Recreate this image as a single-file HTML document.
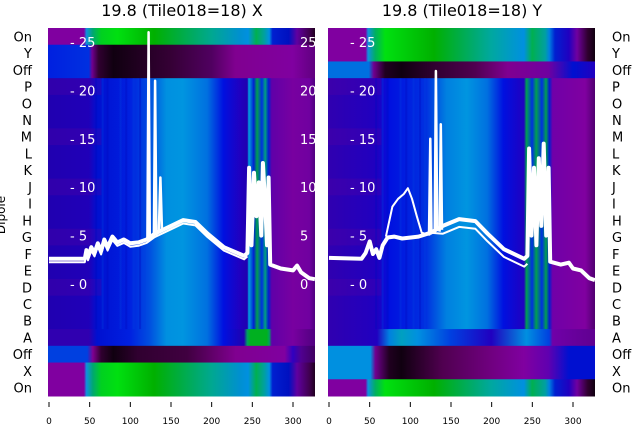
<!DOCTYPE html>
<html><head><meta charset="utf-8"><style>
html,body{margin:0;padding:0;background:#fff;width:640px;height:440px;overflow:hidden;font-family:"DejaVu Sans","Liberation Sans",sans-serif}
</style></head><body>
<svg id="s" width="640" height="440" xmlns="http://www.w3.org/2000/svg">
<defs id="d"></defs>
<text x="182" y="16" font-size="16" text-anchor="middle" font-family="DejaVu Sans">19.8 (Tile018=18) X</text>
<text x="462" y="16" font-size="16" text-anchor="middle" font-family="DejaVu Sans">19.8 (Tile018=18) Y</text>
<g id="g"></g>
</svg>
<script>
var NS="http://www.w3.org/2000/svg",d=document.getElementById('d'),g=document.getElementById('g');
function el(t,a,p){var e=document.createElementNS(NS,t);for(var k in a)e.setAttribute(k,a[k]);(p||g).appendChild(e);return e;}
var gid=0;
function grad(stops){var id='g'+(gid++);var lg=el('linearGradient',{id:id,x1:0,x2:1,y1:0,y2:0},d);
stops.forEach(function(s){el('stop',{offset:(s[0]/327),'stop-color':s[1]},lg);});return 'url(#'+id+')';}
var green=[[0,'#8000a0'],[44,'#8000a0'],[47,'#1090e0'],[55,'#00a870'],[65,'#00d020'],[85,'#00e010'],[130,'#00b000'],[200,'#00a890'],[235,'#0090d0'],[245,'#0090e0'],[255,'#00b050'],[265,'#00a0a0'],[271,'#0090e0'],[275,'#0020d0'],[295,'#0010c0'],[305,'#6000a0'],[320,'#400050'],[327,'#200020']];
var greenR=[[0,'#8000a0'],[46,'#8000a0'],[49,'#1090e0'],[58,'#00b060'],[70,'#00e010'],[130,'#00b000'],[200,'#00a8a0'],[240,'#0090e0'],[250,'#00b050'],[266,'#00a0a0'],[271,'#0080e0'],[278,'#0020d0'],[295,'#2000c0'],[305,'#7000a0'],[318,'#300030'],[327,'#100010']];
var darkL=[[0,'#0020e0'],[50,'#0030e0'],[54,'#700090'],[62,'#300030'],[80,'#100010'],[110,'#200020'],[150,'#350035'],[200,'#500060'],[230,'#800090'],[300,'#8000a0'],[327,'#600080']];
var darkLb=[[0,'#0040e0'],[48,'#0040e0'],[55,'#800090'],[65,'#300030'],[80,'#100010'],[110,'#300030'],[170,'#400040'],[230,'#800090'],[290,'#8000a0'],[300,'#3000c0'],[310,'#500090'],[327,'#400060']];
var darkR=[[0,'#0070e0'],[50,'#0070e0'],[56,'#700090'],[70,'#200020'],[90,'#100010'],[130,'#300030'],[180,'#500050'],[220,'#800090'],[270,'#7000a0'],[300,'#0010d0'],[327,'#2000c0']];
var darkRb=[[0,'#0090e0'],[52,'#0090e0'],[58,'#700090'],[75,'#200020'],[90,'#100010'],[140,'#500050'],[200,'#700080'],[240,'#8000a0'],[270,'#6000b0'],[295,'#0010d0'],[327,'#0010d0']];
var blue=[[0,'#2000b0'],[50,'#2000b8'],[60,'#0010d0'],[100,'#0020e0'],[125,'#0050e0'],[145,'#0090e0'],[165,'#0095e0'],[195,'#0070e0'],[215,'#0010e0'],[235,'#2000c0'],[244,'#2000b0'],[246,'#00a0e0'],[252,'#0020d0'],[256,'#00a050'],[262,'#0030e0'],[266,'#00a080'],[270,'#0020d0'],[274,'#6000a8'],[300,'#7800a0'],[320,'#7000a0'],[327,'#500080']];
var blueA=[[0,'#3000b0'],[50,'#3000b0'],[60,'#0010d0'],[100,'#0020e0'],[125,'#0050e0'],[145,'#0090e0'],[165,'#0095e0'],[195,'#0070e0'],[215,'#0010e0'],[240,'#2000b0'],[244,'#00a060'],[248,'#00b020'],[268,'#00b020'],[271,'#00a060'],[274,'#6000a8'],[300,'#7800a0'],[327,'#500080']];
var blueR=[[0,'#3000b0'],[60,'#2000c0'],[75,'#0010e0'],[120,'#0030e0'],[145,'#0080e0'],[170,'#0095e0'],[195,'#0070e0'],[215,'#0010e0'],[240,'#2000c0'],[243,'#00a050'],[250,'#0030e0'],[255,'#00a050'],[262,'#0030e0'],[267,'#00a050'],[271,'#0020d0'],[275,'#7000a8'],[315,'#8000a0'],[327,'#500070']];
function panel(x0,labelsRight,rows,grads,line){
 var W=267,top=28,rh=368/22,k=0.8133;
 rows.forEach(function(r,i){el('rect',{x:x0,y:top+i*rh,width:W,height:rh+0.5,fill:grads[r]});});
 for(var i=3;i<18;i++){ if(i%3==0) el('rect',{x:x0,y:top+i*rh,width:W*0.2,height:rh,fill:'#6000a0',opacity:0.25}); }
 // streaks
 var sx=[58,66,72,88,95,104,112,118];
 sx.forEach(function(u,j){el('rect',{x:x0+u*k,y:top+3*rh,width:2,height:15*rh,fill:(j%2?'#0040e0':'#0008c0'),opacity:0.35});});
 line.forEach(function(L){var pts=L.p.map(function(q){return (x0+1+q[0]*k).toFixed(1)+','+(284-9.68*q[1]).toFixed(1);}).join(' ');
  el('polyline',{points:pts,fill:'none',stroke:'#fff','stroke-width':L.w,'stroke-linejoin':'round'});});
 [0,5,10,15,20,25].forEach(function(v){var y=284-9.68*v;
  el('text',{x:x0+22,y:y+5,fill:'#fff','font-size':13}).textContent='- '+v;
  if(!labelsRight){var t=el('text',{x:x0+252,y:y+5,fill:'#fff','font-size':13});t.textContent=v;}});
 [0,50,100,150,200,250,300].forEach(function(v){var x=x0+1+v*k;
  el('line',{x1:x,x2:x,y1:402,y2:407,stroke:'#000','stroke-width':1});
  el('text',{x:x,y:424,'font-size':9,'text-anchor':'middle'}).textContent=v;});
}
var names=['On','Y','Off','P','O','N','M','L','K','J','I','H','G','F','E','D','C','B','A','Off','X','On'];
var GL={g:grad(green),d:grad(darkL),db:grad(darkLb),b:grad(blue),a:grad(blueA)};
var GR={g:grad(greenR),d:grad(darkR),db:grad(darkRb),b:grad(blueR),a:grad([[0,'#3000b0'],[60,'#2000c0'],[75,'#0080e0'],[90,'#00a0c0'],[110,'#0090e0'],[150,'#0040e0'],[200,'#2000c0'],[243,'#0090e0'],[271,'#0040e0'],[275,'#7000a8'],[327,'#600090']])};
var rowsL=['g','d','d'],rowsR=['g','g','d'];
for(var i=0;i<15;i++){rowsL.push('b');rowsR.push('b');}
rowsL.push('a');rowsR.push('a');
rowsL=rowsL.concat(['db','g','g']);rowsR=rowsR.concat(['db','db','g']);
var base=[[0,2.6],[44,2.6],[46,3.5],[48,2.8],[52,3.8],[56,3.2],[60,4.2],[64,3.4],[68,4.6],[72,3.8],[78,4.9],[84,4.3],[92,4.6],[100,4.2],[110,4.3],[120,4.6],[130,5.2],[150,6],[165,6.6],[180,6.4],[195,5.2],[215,3.8],[240,2.9],[244,3.2]];
var L1=base.concat([[246,12],[249,4],[252,11.5],[255,7],[258,10.5],[261,5],[263,12.5],[266,8],[268,4],[270,11],[272,2],[285,1.6],[300,1.4],[305,1.9],[310,1.2],[320,0.6],[327,0.5]]);
var spikesL=[[[121,4.7],[122.5,26],[124,4.8]],[[129,5],[130.5,21],[132,5]],[[135,5.3],[137,11],[139,5.5]]];
var lineL=[{p:L1,w:4},{p:base.map(function(q){return [q[0],q[1]-0.35];}),w:2}];
spikesL.forEach(function(s){lineL.push({p:s,w:2.5});});
var baseR=[[0,2.7],[40,2.6],[45,3.2],[50,4.4],[54,3.1],[58,3.6],[62,2.7],[66,4],[72,4.8],[80,4.9],[90,4.7],[110,4.9],[125,5.3],[140,6],[160,6.7],[180,6.5],[195,5.2],[215,3.6],[240,2.6],[244,2.9]];
var R1=baseR.concat([[246,14],[249,5],[252,12],[255,4],[258,13],[261,6],[264,14.5],[267,5],[270,12],[272,2.3],[285,2],[295,2.2],[300,1.6],[310,1.4],[320,0.6],[327,0.4]]);
var bump=[[70,4.9],[78,8],[85,8.8],[92,9.3],[97,9.9],[102,8.8],[108,7],[114,5.3],[122,5.1]];
var lineR=[{p:R1,w:4},{p:baseR.map(function(q){return [q[0],q[0]>130?q[1]-0.8:q[1]];}),w:2},{p:bump,w:2},
 {p:[[123,5],[124.5,15],[126,5.2]],w:2.5},{p:[[130,5.2],[131.5,22],[133,5.5]],w:2.5},{p:[[136,5.4],[137.5,16.5],[139,5.6]],w:2.5}];
panel(48,false,rowsL,GL,lineL);
panel(328,true,rowsR,GR,lineR);
names.forEach(function(n,i){var y=28+(i+0.5)*368/22+5;
 el('text',{x:32,y:y,'font-size':13,'text-anchor':'end'}).textContent=n;
 el('text',{x:612,y:y,'font-size':13}).textContent=n;});
var t=el('text',{x:5,y:215,'font-size':12,'text-anchor':'middle',transform:'rotate(-90 5 215)'});t.textContent='Dipole';
</script>
</body></html>
